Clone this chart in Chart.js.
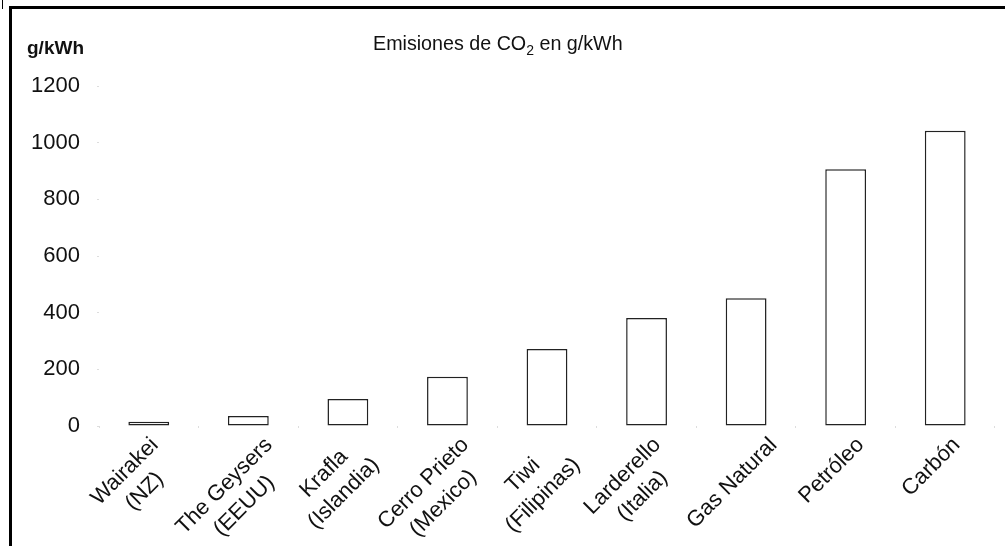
<!DOCTYPE html>
<html>
<head>
<meta charset="utf-8">
<script src="https://cdn.jsdelivr.net/npm/chart.js@4/dist/chart.umd.min.js"></script>
<style>
  html, body { margin: 0; padding: 0; background: #ffffff; }
  #wrap { width: 1005px; height: 546px; }
</style>
</head>
<body>
<div id="wrap"><canvas id="c" width="1005" height="546"></canvas></div>
<script>
// ---- data ----
const categories = [
  ["Wairakei", "(NZ)"],
  ["The Geysers", "(EEUU)"],
  ["Krafla", "(Islandia)"],
  ["Cerro Prieto", "(Mexico)"],
  ["Tiwi", "(Filipinas)"],
  ["Larderello", "(Italia)"],
  ["Gas Natural"],
  ["Petróleo"],
  ["Carbón"]
];
const emissions = [15, 35, 95, 174, 272, 381, 451, 906, 1042];
const yTicks = [0, 200, 400, 600, 800, 1000, 1200];
const titleParts = ["Emisiones de CO", "2", " en g/kWh"];
const unitLabel = "g/kWh";

const FONT = '"Liberation Sans", Arial, sans-serif';

const decor = {
  id: 'decor',
  afterDraw(chart) {
    const ctx = chart.ctx;
    const xs = chart.scales.x, ys = chart.scales.y;
    ctx.save();
    // frame
    ctx.fillStyle = '#000';
    ctx.fillRect(9, 6, 1000, 3);
    ctx.fillRect(9, 6, 3, 540);
    ctx.fillRect(2, 0, 1, 9);

    ctx.fillStyle = '#111';
    // unit label
    ctx.font = 'bold 19px ' + FONT;
    ctx.textAlign = 'left';
    ctx.textBaseline = 'alphabetic';
    ctx.fillText(unitLabel, 27, 54);

    // title with subscript
    let tx = 373;
    ctx.font = '19.7px ' + FONT;
    ctx.fillText(titleParts[0], tx, 50);
    tx += ctx.measureText(titleParts[0]).width;
    ctx.font = '14px ' + FONT;
    ctx.fillText(titleParts[1], tx, 55);
    tx += ctx.measureText(titleParts[1]).width;
    ctx.font = '19.7px ' + FONT;
    ctx.fillText(titleParts[2], tx, 50);

    // rotated category labels
    const axisY = ys.getPixelForValue(0);
    const LH = 28, h = 16, offX = -14, gap = 10;
    const k = Math.SQRT1_2;
    ctx.font = '22px ' + FONT;
    ctx.textAlign = 'center';
    ctx.textBaseline = 'middle';
    categories.forEach((lines, i) => {
      const x = xs.getPixelForValue(i);
      const n = lines.length;
      const W = Math.max(...lines.map(l => ctx.measureText(l).width));
      const ox = x + offX - k * (n - 1) * LH / 2;
      const oy = axisY + gap + k * (W + h) / 2;
      ctx.save();
      ctx.translate(ox, oy);
      ctx.rotate(-Math.PI / 4);
      lines.forEach((l, j) => ctx.fillText(l, 0, j * LH));
      ctx.restore();
    });
    ctx.restore();
  }
};

new Chart(document.getElementById('c'), {
  type: 'bar',
  data: {
    labels: categories,
    datasets: [{
      data: emissions,
      backgroundColor: '#ffffff',
      borderColor: '#222222',
      borderWidth: 1.5,
      borderSkipped: false,
      barPercentage: 0.41,
      categoryPercentage: 1.0
    }]
  },
  options: {
    responsive: false,
    animation: false,
    layout: { padding: { top: 86, right: 10, left: 0, bottom: 0 } },
    plugins: { legend: { display: false }, title: { display: false }, tooltip: { enabled: false } },
    scales: {
      x: {
        offset: true,
        grid: { display: true, drawOnChartArea: false, drawTicks: true, tickLength: 2, color: '#dddddd', offset: true },
        border: { display: false },
        ticks: { display: false },
        afterFit: s => { s.height = 120; }
      },
      y: {
        min: 0, max: 1200,
        afterBuildTicks: s => { s.ticks = yTicks.map(v => ({ value: v })); },
        grid: { display: true, drawOnChartArea: false, drawTicks: true, tickLength: 2, color: '#dddddd' },
        border: { display: false },
        ticks: { font: { size: 22, family: FONT }, color: '#111', padding: 17, callback: v => String(v) },
        afterFit: s => { s.width = 99; }
      }
    }
  },
  plugins: [decor]
});
</script>
</body>
</html>
